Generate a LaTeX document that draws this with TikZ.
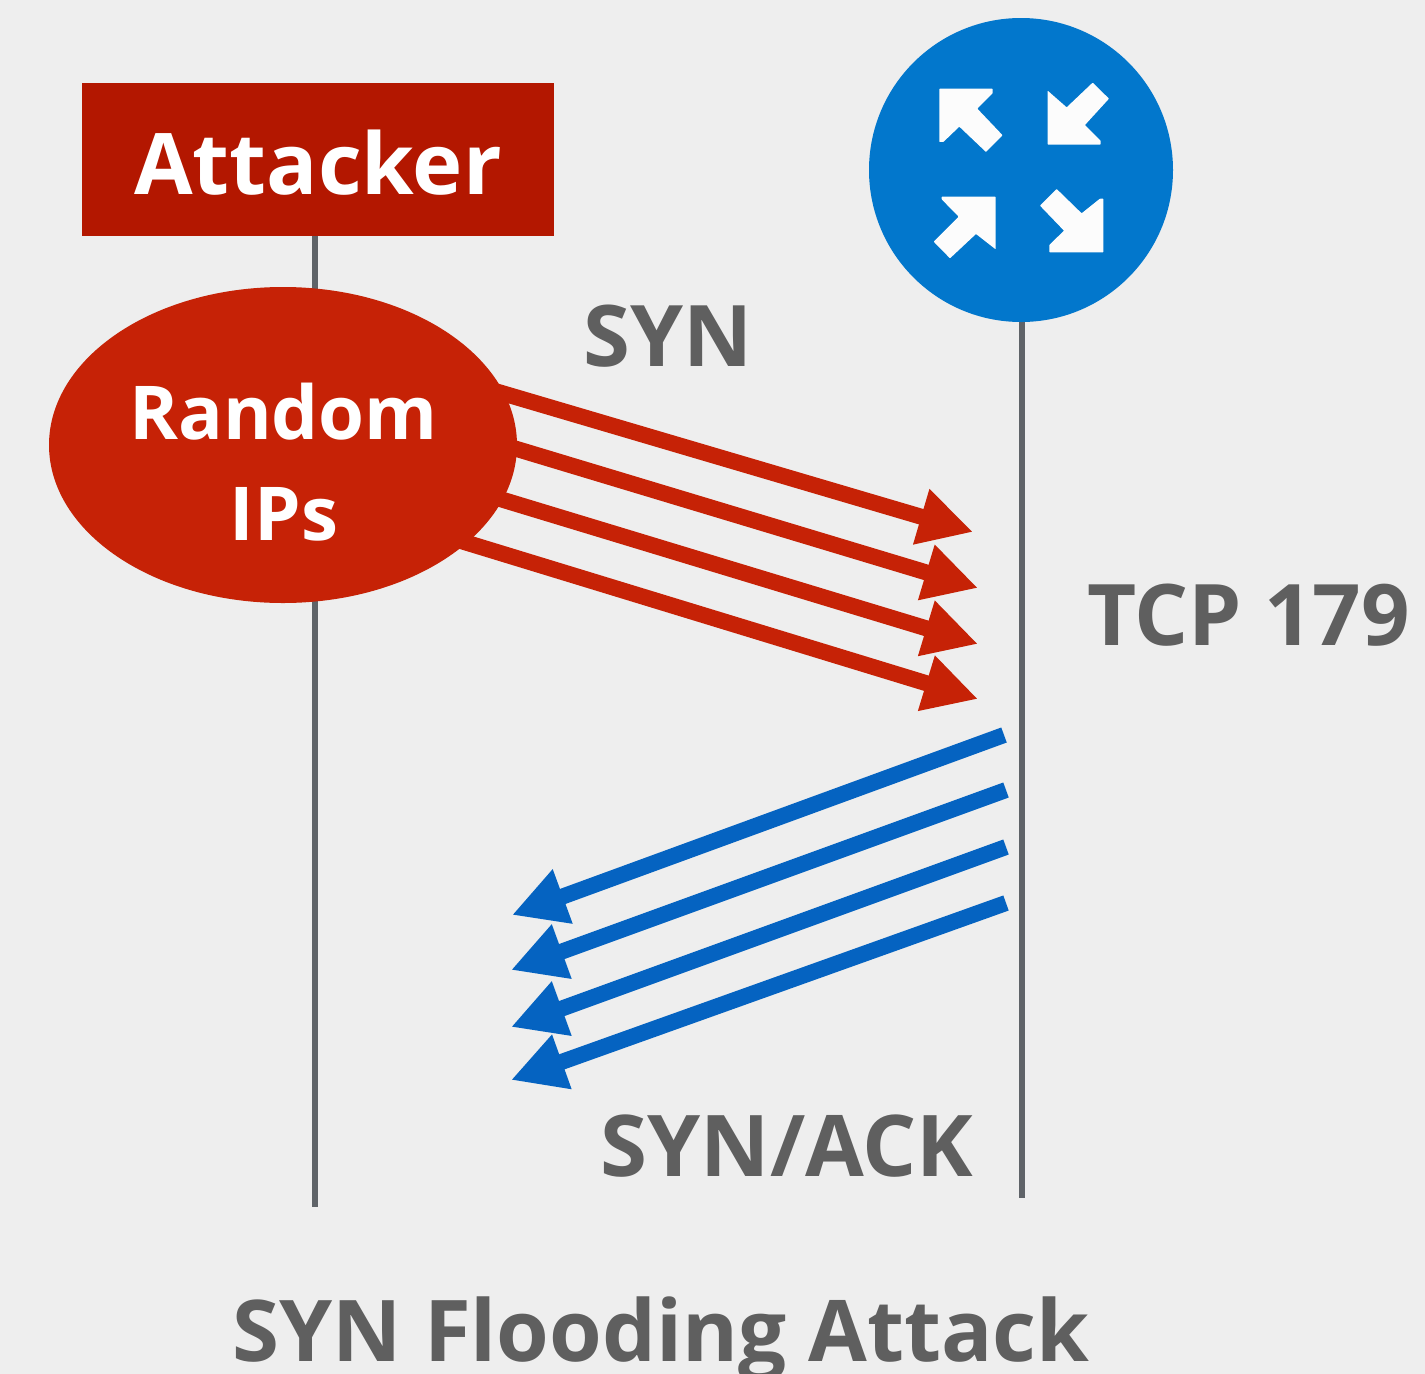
\documentclass[tikz,border=0pt]{standalone}
\usepackage{fontspec}
\setmainfont{Open Sans}
\usetikzlibrary{arrows.meta,backgrounds,shapes.geometric}
\definecolor{bgc}{HTML}{EEEEEE}
\definecolor{darkred}{HTML}{B31700}
\definecolor{redc}{HTML}{C62206}
\definecolor{routerc}{HTML}{0277CC}
\definecolor{bluec}{HTML}{0563C1}
\definecolor{txtc}{HTML}{5F5F5F}
\definecolor{linec}{HTML}{5F6368}
\tikzset{
  lbl/.style={inner sep=0pt,anchor=base,font=\bfseries\fontsize{#1}{#1}\selectfont},
  txtgrey/.style={text=txtc},
  txtwhite/.style={text=white},
  lifeline/.style={draw=linec,line width=5.5pt},
  redarrow/.style={draw=redc,line width=16pt,shorten <=-8pt,-{Triangle[length=54pt,width=54pt]},redc},
  bluearrow/.style={draw=bluec,line width=16pt,-{Triangle[length=54pt,width=54pt]},bluec},
  icon/.style={fill=white!99!black,draw=none,rounded corners=0.6pt},
}
\begin{document}
\begin{tikzpicture}[x=1pt,y=-1pt]
\useasboundingbox (0,0) rectangle (1425,1374);
\node[minimum width=472pt,minimum height=153pt,fill=darkred,anchor=center,inner sep=0pt] (attacker) at (318,159.5) {};
\node[ellipse,fill=redc,minimum width=468pt,minimum height=316pt,inner sep=0pt] (rand) at (283,445) {};
\node[circle,fill=routerc,minimum size=304pt,inner sep=0pt] (router) at (1021,170) {};
\node[lbl=85,txtwhite] (attackerlbl) at (318,194.5) {Attacker};
\node[lbl=74.3,txtwhite] (randomlbl) at (283.5,439) {Random};
\node[lbl=74.3,txtwhite] (ipslbl) at (284,540) {IPs};
\node[lbl=85,txtgrey] (synlbl) at (668,366.5) {SYN};
\node[lbl=85,txtgrey] (tcplbl) at (1248.5,645) {TCP 179};
\node[lbl=85.2,txtgrey] (synacklbl) at (787,1176.5) {SYN/ACK};
\node[lbl=85.2,txtgrey] (titlelbl) at (661,1361.5) {SYN Flooding Attack};
\coordinate (lefttop) at (315,236);
\coordinate (leftend) at (315,1207);
\coordinate (righttop) at (1022,320);
\coordinate (rightend) at (1022,1198);
\coordinate (rt1) at (973,532);
\coordinate (rt2) at (978,588);
\coordinate (rt3) at (978,644);
\coordinate (rt4) at (978,699);
\coordinate (bs1) at (1004,735);
\coordinate (bs2) at (1006,790);
\coordinate (bs3) at (1006,847);
\coordinate (bs4) at (1006,903);
\coordinate (bt1) at (512,915);
\coordinate (bt2) at (511,970);
\coordinate (bt3) at (511,1027);
\coordinate (bt4) at (511,1080);
\begin{scope}[shift={(860,10)},x=0.3333pt,y=-0.3333pt]
\fill[icon] (238,236)--(398,236)--(398,250)--(352,296)--(428,376)--(378,426)--(298,350)--(250,396)--(238,396)--cycle;
\fill[icon] (563,242)--(620,292)--(698,218)--(747,266)--(675,345)--(722,392)--(722,404)--(563,404)--cycle;
\fill[icon] (245,560)--(407,560)--(407,718)--(348,672)--(270,745)--(221,695)--(296,620)--(245,568)--cycle;
\fill[icon] (730,566)--(730,727)--(568,727)--(568,705)--(612,662)--(540,587)--(590,537)--(665,610)--(720,566)--cycle;
\end{scope}
\begin{scope}[on background layer]
\fill[bgc] (0,0) rectangle (1425,1374);
\draw[lifeline] (lefttop) -- (leftend);
\draw[lifeline] (righttop) -- (rightend);
\draw[redarrow] (rand.13.5) -- (rt1);
\draw[redarrow] (rand.-1) -- (rt2);
\draw[redarrow] (rand.-14) -- (rt3);
\draw[redarrow] (rand.-28) -- (rt4);
\draw[bluearrow] (bs1) -- (bt1);
\draw[bluearrow] (bs2) -- (bt2);
\draw[bluearrow] (bs3) -- (bt3);
\draw[bluearrow] (bs4) -- (bt4);
\end{scope}
\end{tikzpicture}
\end{document}
